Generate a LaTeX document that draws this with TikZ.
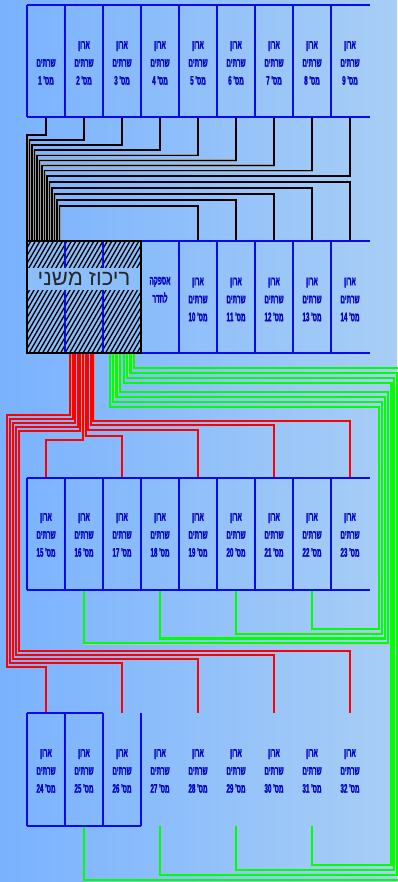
\documentclass[tikz,border=0pt]{standalone}
\usepackage{fontspec}
\newfontfamily\hebcond[Script=Hebrew,FakeStretch=0.5,FakeBold=1.5]{Liberation Sans}
\newfontfamily\hebfont[Script=Hebrew]{Liberation Sans}
\TeXXeTstate=1
\definecolor{bgL}{RGB}{122,178,255}
\definecolor{bgR}{RGB}{168,206,245}
\definecolor{cellblue}{RGB}{10,10,235}
\definecolor{txtblue}{RGB}{0,0,200}
\definecolor{grn}{RGB}{0,255,0}
\definecolor{rd}{RGB}{255,0,0}
\definecolor{hubbg}{RGB}{140,190,250}
\newcommand\hb[1]{\beginR#1\endR}
\newcommand\cab[1]{\hb{ארון}\\\hb{שרתים}\\\hb{מס'~\beginL#1\endL}}
\begin{document}
\begin{tikzpicture}[x=1pt,y=-1pt,
  frame/.style={draw=cellblue,line width=1.8pt},
  cellbox/.style={minimum width=38pt,minimum height=112pt,inner sep=0pt},
  lbl/.style={text=txtblue,font=\hebcond\bfseries\fontsize{12.5}{18}\selectfont,align=center,inner sep=0pt},
  blk/.style={draw=black,line width=1.6pt,preaction={draw=black!40,line width=2.2pt}},
  redw/.style={draw=rd,line width=1.9pt,preaction={draw=black!35,line width=2.5pt}},
  grnw/.style={draw=grn,line width=2.2pt,preaction={draw=black!25,line width=2.8pt}},
]
\shade[left color=bgL,right color=bgR] (0,0) rectangle (397,882);
\useasboundingbox (0,0) rectangle (397,882);

% cell nodes
\foreach \i in {1,...,9} \node[cellbox] (c\i) at ({46+38*(\i-1)},61) {};
\node[cellbox] (cA) at (160,297) {};
\foreach \i in {10,...,14} \node[cellbox] (c\i) at ({198+38*(\i-10)},297) {};
\foreach \i in {15,...,23} \node[cellbox] (c\i) at ({46+38*(\i-15)},534) {};
\foreach \i in {24,...,32} \node[cellbox] (c\i) at ({46+38*(\i-24)},769.5) {};
\node[minimum width=114pt,minimum height=112pt,inner sep=0pt] (hub) at (84,297) {};

% black connectors row 1
\foreach \i in {1,...,9} {
  \pgfmathsetmacro\bx{27+2.5*(\i-1)}
  \pgfmathsetmacro\by{135+5.1*(\i-1)}
  \draw[blk] (c\i.south) |- (\bx,\by) -- (\bx,0 |- hub.north);
}
% black connectors row 2
\foreach \i/\j in {14/0,13/1,12/2,11/3,10/4} {
  \pgfmathsetmacro\bx{27+2.5*(9+\j)}
  \pgfmathsetmacro\by{182+6*\j}
  \draw[blk] (c\i.north) |- (\bx,\by) -- (\bx,0 |- hub.north);
}
% red to row 4
\foreach \t/\k in {24/0,26/1,28/2,30/3,32/4} {
  \pgfmathsetmacro\bx{70+2.6*\k}
  \pgfmathsetmacro\hy{415+4*\k}
  \pgfmathsetmacro\lx{7+3*\k}
  \pgfmathsetmacro\ly{667-4*\k}
  \draw[redw] (\bx,0 |- hub.south) -- (\bx,\hy) -- (\lx,\hy) -- (\lx,\ly) -| (c\t.north);
}
% red to row 3
\foreach \t/\k/\hy in {15/5/440,17/6/436,19/7/430,21/8/425,23/9/421} {
  \pgfmathsetmacro\bx{70+2.6*\k}
  \draw[redw] (\bx,0 |- hub.south) -- (\bx,\hy) -| (c\t.north);
}
% green from row 3
\foreach \t/\k in {22/0,20/1,18/2,16/3} {
  \pgfmathsetmacro\bx{110+3.2*\k}
  \pgfmathsetmacro\hy{407-5*\k}
  \pgfmathsetmacro\rx{379+3*\k}
  \pgfmathsetmacro\ly{629+4.7*\k}
  \draw[grnw] (\bx,0 |- hub.south) -- (\bx,\hy) -- (\rx,\hy) -- (\rx,\ly) -| (c\t.south);
}
% green from row 4
\foreach \t/\k in {31/0,29/1,27/2,25/3} {
  \pgfmathsetmacro\bx{124+3.2*\k}
  \pgfmathsetmacro\hy{383-5*\k}
  \pgfmathsetmacro\rx{391.5+2.6*\k}
  \pgfmathsetmacro\ly{865+5*\k}
  \draw[grnw] (\bx,0 |- hub.south) -- (\bx,\hy) -- (\rx,\hy) -- (\rx,\ly) -| (c\t.south);
}

% frames
\draw[frame] (27,5) -- (370,5) (27,117) -- (370,117);
\foreach \x in {27,65,...,331} \draw[frame] (\x,5) -- (\x,117);
\draw[frame] (141,241) -- (370,241) (141,353) -- (370,353);
\foreach \x in {141,179,...,331} \draw[frame] (\x,241) -- (\x,353);
\draw[frame] (27,478) -- (370,478) (27,590) -- (370,590);
\foreach \x in {27,65,...,331} \draw[frame] (\x,478) -- (\x,590);
\draw[frame] (27,713) -- (103,713) (27,826) -- (141,826);
\foreach \x in {27,65,103,141} \draw[frame] (\x,713) -- (\x,826);

% hub hatch
\begin{scope}
  \clip (hub.south west) rectangle (hub.north east);
  \fill[hubbg] (hub.south west) rectangle (hub.north east);
  \foreach \i in {0,...,62} \draw[black,line width=1.3pt] ({-70+4.5*\i},353) -- ++(65,-112);
\end{scope}
\draw[frame] (65,241) -- (65,353) (103,241) -- (103,353);
\node[fill=hubbg,minimum width=112pt,minimum height=22pt,inner sep=0pt,text=black!85,
  font=\hebfont\fontsize{22}{22}\selectfont] (hubtxt) at (84,279) {\hb{ריכוז משני}};
\draw[black,line width=2.2pt] (hub.south west) rectangle (hub.north east);

% labels
\node[lbl] (l1) at (46,72) {\hb{שרתים}\\\hb{מס'~\beginL1\endL}};
\foreach \i in {2,...,9} \node[lbl] (l\i) at ({46+38*(\i-1)},63) {\cab{\i}};
\node[lbl] (lA) at (160,290) {\hb{אספקה}\\\hb{לחדר}};
\foreach \i in {10,...,14} \node[lbl] (l\i) at ({198+38*(\i-10)},299.5) {\cab{\i}};
\foreach \i in {15,...,23} \node[lbl] (l\i) at ({46+38*(\i-15)},535) {\cab{\i}};
\foreach \i in {24,...,32} \node[lbl] (l\i) at ({46+38*(\i-24)},771) {\cab{\i}};
\end{tikzpicture}
\end{document}
